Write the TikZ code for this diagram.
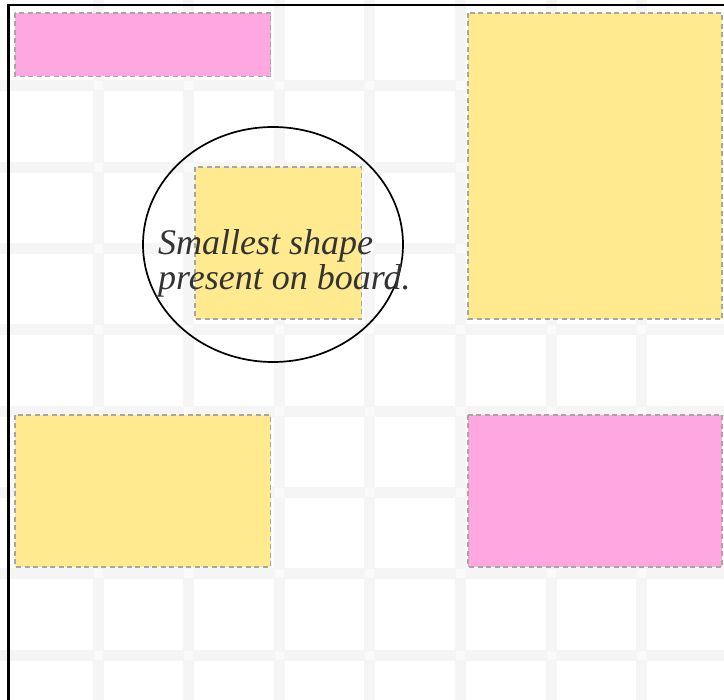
\documentclass[tikz,border=0pt]{standalone}
\usepackage{fontspec}
\setmainfont{Liberation Serif}
\usepackage{tikz}
\usetikzlibrary{shapes.geometric}
\definecolor{notepink}{HTML}{FFA7E0}
\definecolor{noteyellow}{HTML}{FFEA90}
\definecolor{gridband}{HTML}{F5F5F5}
\definecolor{inkgray}{HTML}{333333}

\begin{document}
\begin{tikzpicture}[
  x=1pt, y=-1pt,
  band/.style={fill=gridband},
  cross/.style={fill=white!98!black},
  sticky/.style={draw=black!35, dash pattern=on 5pt off 3.5pt, line width=1.5pt},
  pinknote/.style={sticky, fill=notepink},
  yellownote/.style={sticky, fill=noteyellow},
  ring/.style={draw, ellipse, line width=1.7pt, inner sep=0pt},
  caption/.style={font=\fontsize{36}{35}\selectfont\itshape, text=inkgray,
                  align=left, inner sep=0pt}
]
\useasboundingbox (0,0) rectangle (724,700);
\clip (0,0) rectangle (724,700);
\fill[white] (0,0) rectangle (724,700);
\foreach \gx in {98,188.6,...,740} \fill[band] (\gx-5.5,0) rectangle (\gx+5.5,700);
\foreach \gy in {86,167.3,...,740} \fill[band] (0,\gy-5.5) rectangle (724,\gy+5.5);
\foreach \gx in {98,188.6,...,740}
  \foreach \gy in {86,167.3,...,740}
    \fill[cross] (\gx-4.5,\gy-4.5) rectangle (\gx+4.5,\gy+4.5);
\draw[line width=2.8pt] (8.5,5) rectangle (760,760);
\draw[pinknote] (15,13) rectangle (270.5,76.5);
\draw[yellownote] (468,13) rectangle (722,319);
\draw[yellownote] (195,167) rectangle (361.5,319);
\draw[yellownote] (15,415) rectangle (270.5,567);
\draw[pinknote] (468,415) rectangle (722,567);
\node[ring, minimum width=260pt, minimum height=235pt] (focus) at (273,244.5) {};
\node[caption, anchor=base west] (smallest) at (158,290) {Smallest shape\\present on board.};
\end{tikzpicture}
\end{document}
